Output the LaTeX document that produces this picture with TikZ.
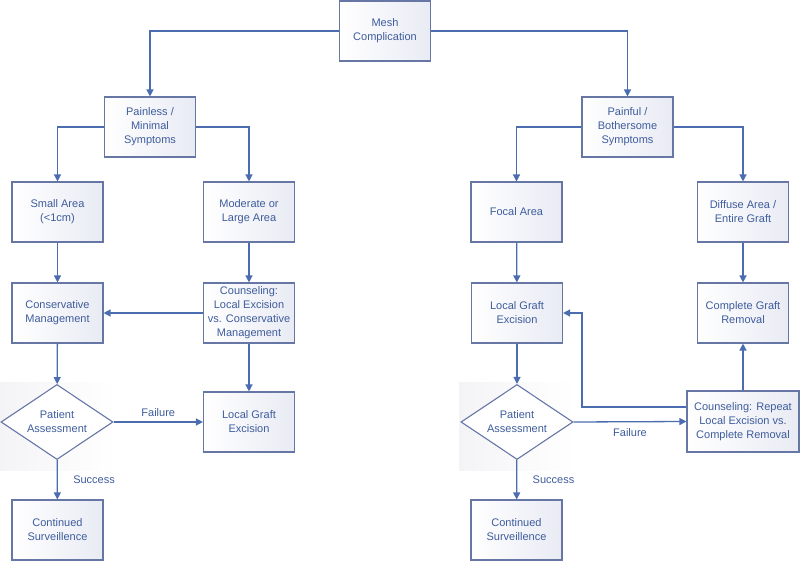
\documentclass[tikz,border=0pt]{standalone}
\usepackage{fontspec}
\setmainfont{Liberation Sans}
\usetikzlibrary{shapes.geometric,arrows.meta,calc}
\definecolor{linec}{HTML}{4B6DB0}
\definecolor{textc}{HTML}{3E5C9C}
\definecolor{borderc}{HTML}{6677A6}
\definecolor{fillc}{HTML}{E9EBF4}
\definecolor{bgc}{HTML}{F4F4F7}
\tikzset{
  box/.style={draw=borderc, line width=1.1pt, left color=white, right color=fillc,
    minimum width=91pt, minimum height=60pt, inner sep=2pt, align=center,
    text=textc, font=\fontsize{11pt}{14pt}\selectfont},
  widebox/.style={box, minimum width=112pt, minimum height=61pt},
  dec/.style={diamond, draw=borderc, line width=1.1pt, fill=white,
    minimum width=112pt, minimum height=75pt, inner sep=0pt, aspect=1.5, align=center,
    text=textc, font=\fontsize{11pt}{14pt}\selectfont},
  conn/.style={draw=linec, line width=1.3pt, -{Triangle[length=7pt,width=7pt]}},
  lbl/.style={text=textc, font=\fontsize{11pt}{14pt}\selectfont},
}
\begin{document}
\begin{tikzpicture}[x=1pt,y=-1pt]
\useasboundingbox (0,0) rectangle (800,561);
% faint backgrounds behind diamonds
\shade[left color=bgc, right color=white] (0,382) rectangle (116,470);
\shade[left color=bgc, right color=white] (459,382) rectangle (575,470);

\node[box] (mesh) at (385,31) {Mesh\\Complication};
\node[box] (painless) at (150,127) {Painless /\\Minimal\\Symptoms};
\node[box] (painful) at (627.5,127) {Painful /\\Bothersome\\Symptoms};

\node[box] (small) at (57.5,212) {Small Area\\(<1cm)};
\node[box] (moderate) at (249,212) {Moderate or\\Large Area};
\node[box] (cons) at (57.5,313) {Conservative\\Management};
\node[box] (couns1) at (249,313) {Counseling:\\Local Excision\\vs. Conservative\\Management};
\node[dec] (pa1) at (57,422) {Patient\\Assessment};
\node[box] (lge1) at (249,422) {Local Graft\\Excision};
\node[box] (cs1) at (57.5,530) {Continued\\Surveillence};

\node[box] (focal) at (516.5,212) {Focal Area};
\node[box] (diffuse) at (743,212) {Diffuse Area /\\Entire Graft};
\node[box] (lge2) at (517,313) {Local Graft\\Excision};
\node[box] (cgr) at (743,313) {Complete Graft\\Removal};
\node[dec] (pa2) at (517,422) {Patient\\Assessment};
\node[widebox] (couns2) at (743,421.5) {Counseling: Repeat\\Local Excision vs.\\Complete Removal};
\node[box] (cs2) at (516.5,530) {Continued\\Surveillence};

\coordinate (turn) at (582,407);

\draw[conn] (mesh.west) -| (painless.north);
\draw[conn] (mesh.east) -| (painful.north);
\draw[conn] (painless.west) -| (small.north);
\draw[conn] (painless.east) -| (moderate.north);
\draw[conn] (painful.west) -| (focal.north);
\draw[conn] (painful.east) -| (diffuse.north);

\draw[conn] (small) -- (cons);
\draw[conn] (moderate) -- (couns1);
\draw[conn] (couns1) -- (cons);
\draw[conn] (cons) -- (pa1);
\draw[conn] (couns1) -- (lge1);
\draw[conn] (pa1) -- node[lbl, above=1pt] (fail1) {Failure} (lge1);
\draw[conn] (pa1) -- node[lbl, right=12pt] (succ1) {Success} (cs1);

\draw[conn] (focal) -- (lge2);
\draw[conn] (diffuse) -- (cgr);
\draw[conn] (lge2) -- (pa2);
\draw[conn] (pa2) -- node[lbl, right=12pt] (succ2) {Success} (cs2);
\draw[conn] (pa2.east) -- node[lbl, below=3pt] (fail2) {Failure} (couns2.west);
\draw[conn] (couns2) -- (cgr);
\draw[conn] (couns2.west |- turn) -- (turn) |- (lge2.east);
\end{tikzpicture}
\end{document}
